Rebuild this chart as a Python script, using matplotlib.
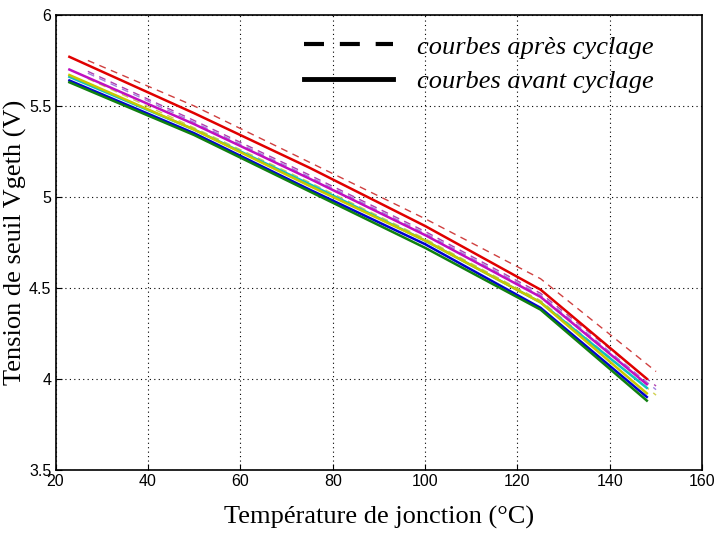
import numpy as np
import matplotlib
matplotlib.use('Agg')
import matplotlib.pyplot as plt
from matplotlib.lines import Line2D

# temperatures (°C)
T_avant = [23, 50, 75, 100, 125, 148]
T_apres = [27, 50, 75, 100, 125, 150]

# courbes avant cyclage (solid)
avant = {
    'rouge':   [5.77, 5.46, 5.16, 4.84, 4.49, 4.00],
    'magenta': [5.70, 5.40, 5.10, 4.79, 4.45, 3.97],
    'cyan':    [5.66, 5.37, 5.07, 4.76, 4.42, 3.95],
    'jaune':   [5.67, 5.37, 5.06, 4.76, 4.42, 3.92],
    'bleu':    [5.64, 5.35, 5.04, 4.74, 4.39, 3.90],
    'vert':    [5.63, 5.34, 5.03, 4.72, 4.38, 3.88],
}
# courbes après cyclage (dashed)
apres = {
    'rouge':   [5.75, 5.50, 5.19, 4.88, 4.55, 4.04],
    'magenta': [5.69, 5.42, 5.12, 4.81, 4.47, 3.96],
    'lavande': [5.68, 5.41, 5.11, 4.80, 4.46, 3.94],
    'jaune':   [5.65, 5.38, 5.08, 4.77, 4.43, 3.91],
}

col_avant = {'rouge': '#e00000', 'magenta': '#c010c0', 'cyan': '#10c0c0',
             'jaune': '#c8c800', 'bleu': '#0000d0', 'vert': '#108010'}
col_apres = {'rouge': '#d04040', 'magenta': '#b040b0', 'lavande': '#a080e0',
             'jaune': '#d0d050'}

fig = plt.figure(figsize=(7.21, 5.35), dpi=100)
ax = fig.add_axes([0.077, 0.122, 0.897, 0.850])

for k, v in apres.items():
    ax.plot(T_apres, v, color=col_apres[k], lw=1.0, dashes=(5, 4))
for k, v in avant.items():
    ax.plot(T_avant, v, color=col_avant[k], lw=1.8)

ax.set_xlim(20, 160)
ax.set_ylim(3.5, 6)
ax.set_xticks(np.arange(20, 161, 20))
ax.set_yticks([3.5, 4, 4.5, 5, 5.5, 6])
ax.set_yticklabels(['3.5', '4', '4.5', '5', '5.5', '6'])
ax.grid(True, color='black', linestyle=(0, (1, 3)), lw=0.8)
ax.tick_params(labelsize=11.5, direction='in', length=4, pad=3)
for lab in ax.get_xticklabels() + ax.get_yticklabels():
    lab.set_family('Liberation Sans')
for s in ax.spines.values():
    s.set_linewidth(1.2)

ax.set_xlabel('Température de jonction (°C)', family='Liberation Serif', fontsize=19, labelpad=12)
ax.set_ylabel('Tension de seuil Vgeth (V)', family='Liberation Serif', fontsize=19, va='center')
ax.yaxis.set_label_coords(-0.062, 0.5)

handles = [Line2D([], [], color='black', lw=3, dashes=(4.8, 3.8)),
           Line2D([], [], color='black', lw=3.5)]
leg = ax.legend(handles, ['courbes après cyclage', 'courbes avant cyclage'],
                loc='upper right', bbox_to_anchor=(0.962, 1.008), frameon=False,
                handlelength=3.4, handletextpad=0.9, labelspacing=0.42,
                prop={'family': 'Liberation Serif', 'style': 'italic', 'size': 19})

fig.savefig('out.png', dpi=100)
